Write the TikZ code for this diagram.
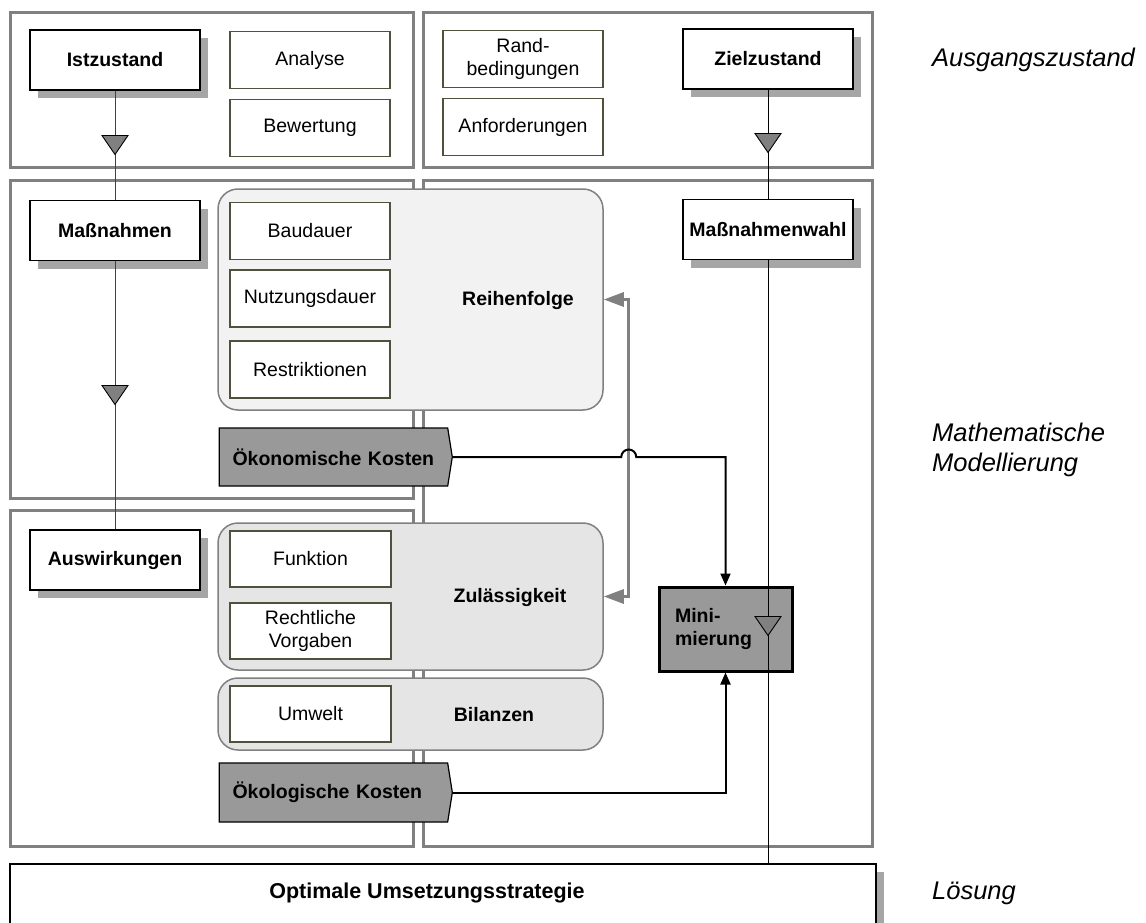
\documentclass[tikz,border=0pt]{standalone}
\usepackage{fontspec}
\setmainfont{Liberation Sans}
\usetikzlibrary{shapes.symbols,shadows,arrows.meta,calc}

\newcommand\boxfont{\fontsize{19.5}{23.5}\selectfont}
\newcommand\sidefont{\fontsize{25.5}{30.5}\selectfont\itshape}

\definecolor{subline}{RGB}{80,80,60}
\definecolor{costfill}{RGB}{153,153,153}
\definecolor{framegray}{RGB}{128,128,128}

\tikzset{
  frame/.style={draw=framegray, line width=3pt},
  mainbox/.style={draw=black, fill=white, line width=1.5pt,
    minimum width=170pt, minimum height=60pt, inner sep=0pt,
    font=\boxfont\bfseries,
    drop shadow={shadow xshift=8pt, shadow yshift=-8pt, fill=black!35, opacity=1}},
  subbox/.style={draw=subline, fill=white, line width=1.2pt,
    minimum width=160pt, minimum height=57pt, inner sep=0pt,
    align=center, font=\boxfont},
  groupbox/.style={draw=framegray, line width=1.5pt, rounded corners=20pt,
    minimum width=385pt, inner sep=0pt},
  grouplabel/.style={font=\boxfont\bfseries, inner sep=0pt},
  costbox/.style={shape=signal, signal to=east, signal pointer angle=162,
    draw=black, line width=1.2pt, fill=costfill,
    minimum width=233pt, inner sep=0pt, text width=202pt, align=left,
    font=\boxfont\bfseries},
  minbox/.style={draw=black, line width=3pt, fill=costfill,
    minimum width=133pt, minimum height=84pt, inner sep=0pt,
    text width=101pt, align=left, font=\boxfont\bfseries},
  resultbox/.style={draw=black, fill=white, line width=1.2pt,
    minimum width=866pt, minimum height=80pt, inner sep=0pt,
    drop shadow={shadow xshift=8pt, shadow yshift=-8pt, fill=black!35, opacity=1}},
  sidelabel/.style={font=\sidefont, align=left, inner sep=0pt, anchor=west},
  leftflow/.style={draw=black!75, line width=1pt},
  rightflow/.style={draw=black, line width=1pt},
  feedback/.style={draw=framegray, line width=3pt,
    {Triangle[length=20pt,width=14pt]}-{Triangle[length=20pt,width=14pt]}},
  costflow/.style={draw=black, line width=2pt,
    -{Triangle[length=12pt,width=10pt]}},
  downmark/.pic={\filldraw[fill=black!50, draw=black, line width=0.9pt]
    (-13,-9.5) -- (13,-9.5) -- (0,9.5) -- cycle;}
}

\begin{document}
\begin{tikzpicture}[x=1pt, y=-1pt]
\useasboundingbox (0,0) rectangle (1146,923);
\clip (0,0) rectangle (1146,923);
\fill[white] (0,0) rectangle (1146,923);

% phase frames
\draw[frame] (10,13) rectangle (413,168);
\draw[frame] (423,13) rectangle (872,168);
\draw[frame] (10,180) rectangle (413,498);
\draw[frame] (423,180) rectangle (872,846);
\draw[frame] (10,510) rectangle (413,846);

% initial state
\node[mainbox] (ist) at (115,60) {Istzustand};
\node[subbox] (ana) at (310,60) {Analyse};
\node[subbox] (bew) at (310,128) {Bewertung};
\node[subbox] (rand) at (523,59) {Rand-\\bedingungen};
\node[subbox] (anf) at (523,127) {Anforderungen};
\node[mainbox] (ziel) at (768,59) {Zielzustand};

% sequence group
\node[groupbox, fill=black!5, minimum height=221pt] (reihe) at (410.5,299.5) {};
\node[grouplabel] (reihelbl) at (518,300) {Reihenfolge};
\node[subbox] (bau) at (310,231) {Baudauer};
\node[subbox] (nutz) at (310,298.5) {Nutzungsdauer};
\node[subbox] (restr) at (310,369.5) {Restriktionen};

\node[mainbox] (mass) at (115,230.5) {Maßnahmen};
\node[mainbox] (mwahl) at (768,229.5) {Maßnahmenwahl};

% admissibility group
\node[groupbox, fill=black!10, minimum height=147pt] (zul) at (410.5,596.5) {};
\node[grouplabel] (zullbl) at (510,597) {Zulässigkeit};
\node[subbox, minimum width=161pt, minimum height=56pt] (funk) at (310.5,559) {Funktion};
\node[subbox, minimum width=161pt, minimum height=56pt] (recht) at (310.5,631) {Rechtliche\\Vorgaben};

% balance group
\node[groupbox, fill=black!10, minimum height=72pt] (bil) at (410.5,714) {};
\node[grouplabel] (billbl) at (494,715) {Bilanzen};
\node[subbox, minimum width=161pt, minimum height=56pt] (umw) at (310.5,714) {Umwelt};

\node[mainbox] (ausw) at (115,560) {Auswirkungen};

% cost terms
\node[costbox, minimum height=58pt] (oekon) at (333.5,457) {Ökonomische Kosten};
\node[costbox, minimum height=59pt] (oekol) at (333.5,792.5) {Ökologische Kosten};

% optimisation
\node[minbox] (mini) at (725.5,629) {Mini-\\mierung};

% result
\node[resultbox] (loes) at (443,904) {};
\node[font=\fontsize{21.5}{25}\selectfont\bfseries, inner sep=0pt] (loestxt) at (427,893) {Optimale Umsetzungsstrategie};

% feedback between sequence and admissibility
\coordinate (fbx) at ($(reihe.east)+(25,0)$);
\draw[feedback] (reihe.east) -- (fbx) |- (zul.east);

% cost flows into the minimisation
\draw[costflow] (oekon.east) -- ($(fbx |- oekon.east)+(-7.5,0)$)
  arc[start angle=180, end angle=360, radius=7.5]
  -- (mini.north |- oekon.east) -- (mini.north);
\draw[costflow] (oekol.east) -- (mini.south |- oekol.east) -- (mini.south);

% process lines with direction marks
\draw[leftflow] (ist.south) -- (mass.north);
\draw[leftflow] (mass.south) -- (ausw.north);
\pic at (115,145) {downmark};
\pic at (115,395) {downmark};

\draw[rightflow] (ziel.south) -- (mwahl.north);
\draw[rightflow] (mwahl.south) -- (mwahl.south |- loes.north);
\pic at (768,143) {downmark};
\pic at (768,626) {downmark};

% phase labels
\node[sidelabel] (lblA) at (932,60) {Ausgangszustand};
\node[sidelabel] (lblM) at (932,450) {Mathematische\\Modellierung};
\node[sidelabel] (lblL) at (932,893) {Lösung};
\end{tikzpicture}
\end{document}
